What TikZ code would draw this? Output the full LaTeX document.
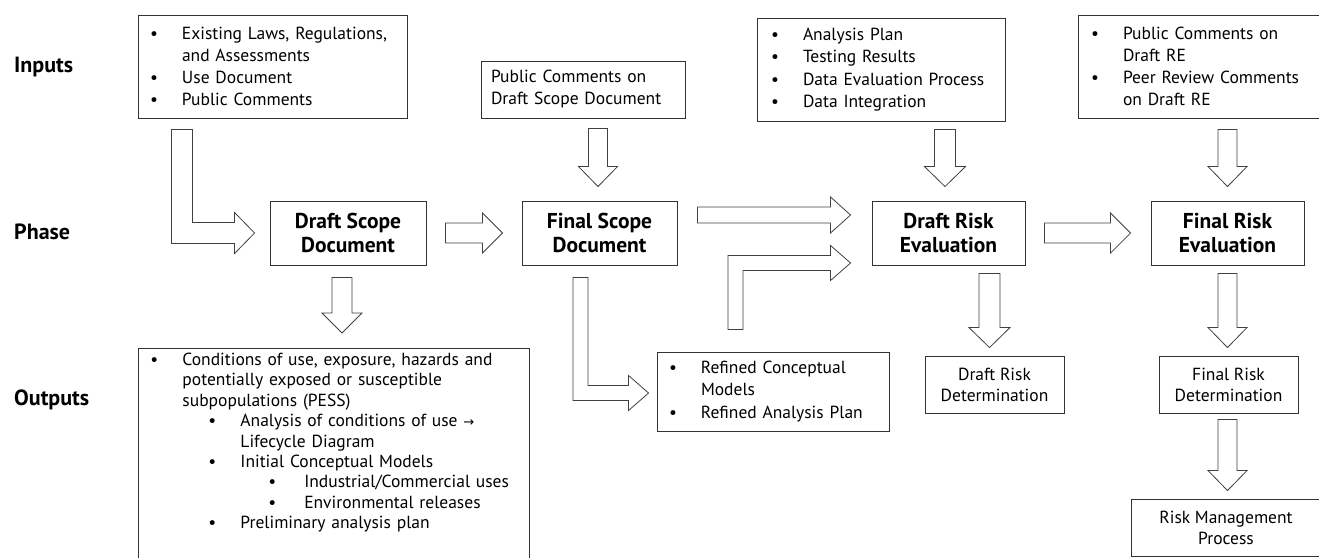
\documentclass[tikz,border=0pt]{standalone}
\usepackage{fontspec}
\setmainfont{PT Sans}
\newfontfamily\symfont{DejaVu Sans}
\usetikzlibrary{calc}

\newcommand{\bul}[1][32pt]{\makebox[#1][l]{\textbullet}}

% hollow block arrows, #1 = half shaft width
\newcommand{\blockdown}[3][10pt]{%
  \draw[blockarrow] let \p1=(#2), \p2=(#3) in
    (\x1-#1,\y1) -- (\x1-#1,\y2+20pt) -- (\x1-#1-10pt,\y2+20pt) -- (\x1,\y2)
    -- (\x1+#1+10pt,\y2+20pt) -- (\x1+#1,\y2+20pt) -- (\x1+#1,\y1) -- cycle;}
\newcommand{\blockright}[3][10pt]{%
  \draw[blockarrow] let \p1=(#2), \p2=(#3) in
    (\x1,\y1+#1) -- (\x2-20pt,\y1+#1) -- (\x2-20pt,\y1+#1+10pt) -- (\x2,\y1)
    -- (\x2-20pt,\y1-#1-10pt) -- (\x2-20pt,\y1-#1) -- (\x1,\y1-#1) -- cycle;}
\newcommand{\blockdownright}[3][10pt]{%
  \draw[blockarrow] let \p1=(#2), \p2=(#3) in
    (\x1-#1,\y1) -- (\x1-#1,\y2-#1) -- (\x2-20pt,\y2-#1) -- (\x2-20pt,\y2-#1-10pt)
    -- (\x2,\y2) -- (\x2-20pt,\y2+#1+10pt) -- (\x2-20pt,\y2+#1) -- (\x1+#1,\y2+#1)
    -- (\x1+#1,\y1) -- cycle;}
\newcommand{\blockupright}[3][10pt]{%
  \draw[blockarrow] let \p1=(#2), \p2=(#3) in
    (\x1-#1,\y1) -- (\x1-#1,\y2+#1) -- (\x2-20pt,\y2+#1) -- (\x2-20pt,\y2+#1+10pt)
    -- (\x2,\y2) -- (\x2-20pt,\y2-#1-10pt) -- (\x2-20pt,\y2-#1) -- (\x1+#1,\y2-#1)
    -- (\x1+#1,\y1) -- cycle;}

\tikzset{
  box/.style={draw=black!80, line width=0.9pt, inner xsep=12pt, inner ysep=0pt,
    align=left, font=\fontsize{17.5}{22}\selectfont},
  phasebox/.style={draw=black!80, line width=0.9pt, align=center,
    minimum width=155pt, minimum height=64pt, font=\bfseries\fontsize{21.5}{24}\selectfont},
  resultbox/.style={draw=black!80, line width=0.9pt, align=center,
    minimum width=139pt, minimum height=57pt, font=\fontsize{17.5}{21}\selectfont},
  rowlabel/.style={anchor=west, inner sep=0pt, font=\bfseries\fontsize{22}{24}\selectfont},
  blockarrow/.style={draw=black!75, line width=0.8pt, fill=white, line join=miter}
}

\begin{document}
\begin{tikzpicture}[x=1pt, y=-1pt]
\useasboundingbox (0,0) rectangle (1319,557);

\node[rowlabel] (inputs) at (14,67) {Inputs};
\node[rowlabel] (phase) at (14,232) {Phase};
\node[rowlabel] (outputs) at (14,400) {Outputs};

% inputs
\node[box, text width=245pt, minimum height=103pt] (in1) at (272.5,66.5)
  {\bul Existing Laws, Regulations,\\ \hspace*{32pt}and Assessments\\ \bul Use Document\\ \bul Public Comments};
\node[box, inner xsep=10pt, text width=184pt, minimum height=57pt] (pubscope) at (583,89.5)
  {Public Comments on\\ Draft Scope Document};
\node[box, inner xsep=14pt, text width=220pt, minimum height=103pt, font=\fontsize{17.5}{22.3}\selectfont] (analysis) at (881,69.5)
  {\bul Analysis Plan\\ \bul Testing Results\\ \bul Data Evaluation Process\\ \bul Data Integration};
\node[box, inner xsep=13pt, text width=220pt, minimum height=103pt] (pubre) at (1201,66.5)
  {\bul Public Comments on\\ \hspace*{32pt}Draft RE\\ \bul Peer Review Comments\\ \hspace*{32pt}on Draft RE};

% phases
\node[phasebox, minimum width=156pt] (dsd) at (348,233) {Draft Scope\\ Document};
\node[phasebox] (fsd) at (599.5,233) {Final Scope\\ Document};
\node[phasebox, minimum width=153pt] (dre) at (948.5,233) {Draft Risk\\ Evaluation};
\node[phasebox, minimum width=153pt] (fre) at (1227.5,233) {Final Risk\\ Evaluation};

% outputs
\node[box, anchor=north west, inner ysep=4pt, text width=367pt, text height=13pt, text depth=200pt,
  font=\fontsize{17.5}{20.4}\selectfont] (outbox) at (138,348)
  {\bul Conditions of use, exposure, hazards and\\
   \hspace*{32pt}potentially exposed or susceptible\\
   \hspace*{32pt}subpopulations (PESS)\\
   \hspace*{58pt}\bul Analysis of conditions of use {\symfont\fontsize{13}{13}\selectfont →}\\
   \hspace*{90pt}Lifecycle Diagram\\
   \hspace*{58pt}\bul Initial Conceptual Models\\
   \hspace*{118pt}\bul[30pt] Industrial/Commercial uses\\
   \hspace*{118pt}\bul[30pt] Environmental releases\\
   \hspace*{58pt}\bul Preliminary analysis plan};
\node[box, inner xsep=12pt, text width=208pt, minimum height=79pt, font=\fontsize{17.5}{22.5}\selectfont] (refined) at (773,391.5)
  {\bul Refined Conceptual\\ \hspace*{32pt}Models\\ \bul Refined Analysis Plan};
\node[resultbox] (drd) at (994.5,384.5) {Draft Risk\\ Determination};
\node[resultbox] (frd) at (1228.5,384.5) {Final Risk\\ Determination};
\node[resultbox, minimum width=190pt] (rmp) at (1226,527.5) {Risk Management\\ Process};

% arrows
\blockdownright[10.5pt]{$(in1.south west)+(44.5,11)$}{$(dsd.west)+(-15,0)$}
\blockdown{$(dsd.south)+(-6,12)$}{$(dsd.south |- outbox.north)+(-6,-15)$}
\blockright{$(dsd.east)+(19,0)$}{$(fsd.west)+(-19,0)$}
\blockdown[9.5pt]{$(fsd.north |- pubscope.south)+(-1.5,10)$}{$(fsd.north)+(-1.5,-14)$}
\blockright[8pt]{$(fsd.east)+(20,-18)$}{$(dre.west)+(-21,-18)$}
\blockupright[7.5pt]{$(refined.north)+(-37.5,-22)$}{$(dre.west)+(-21,30)$}
\blockdownright[7.5pt]{$(fsd.south)+(-19,12)$}{$(refined.west)+(-8,1.5)$}
\blockdown[10.5pt]{$(dre.north |- analysis.south)+(-3.5,8)$}{$(dre.north)+(-3.5,-14)$}
\blockright{$(dre.east)+(19,0)$}{$(fre.west)+(-20,0)$}
\blockdown[9.5pt]{$(fre.north |- pubre.south)+(0,11)$}{$(fre.north)+(0,-14)$}
\blockdown[10.5pt]{$(dre.south)+(41,8)$}{$(drd.north)+(-5,-8)$}
\blockdown[9.5pt]{$(fre.south)+(0,8)$}{$(frd.north)+(0,-8)$}
\blockdown[9.5pt]{$(frd.south)+(-1,6)$}{$(rmp.north)+(0,-8)$}
\end{tikzpicture}
\end{document}
